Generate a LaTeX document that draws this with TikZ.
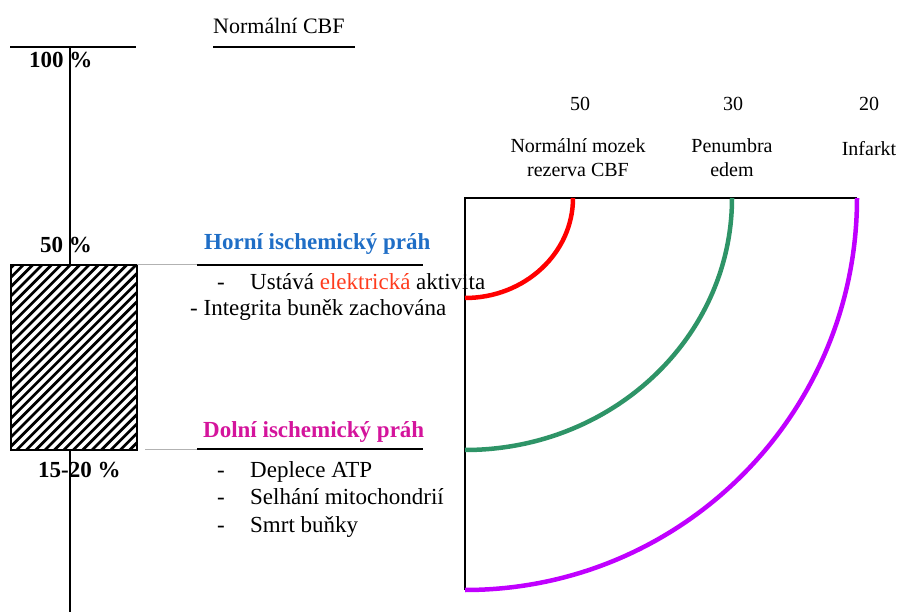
\documentclass[tikz,border=0pt]{standalone}
\usepackage{fontspec}
\setmainfont{Liberation Serif}
\usepackage{tikz}
\usetikzlibrary{positioning}

\definecolor{hornicolor}{HTML}{1F6EC6}
\definecolor{dolnicolor}{HTML}{D4149C}
\definecolor{elcolor}{HTML}{FF3C1E}
\definecolor{arcred}{HTML}{FF0000}
\definecolor{arcgreen}{HTML}{2E9467}
\definecolor{arcviolet}{HTML}{C000FF}

\tikzset{
  txt/.style={inner sep=0pt, anchor=base west, font=\fontsize{23}{27}\selectfont},
  boldtxt/.style={txt, font=\fontsize{23}{27}\selectfont\bfseries},
  toplabel/.style={inner sep=0pt, anchor=base, align=center, font=\fontsize{20}{24}\selectfont},
  zone/.style={line width=4.5pt}
}

\begin{document}
\begin{tikzpicture}[x=1pt, y=-1pt]
        \useasboundingbox (0,0) rectangle (897,612);

        % Define coordinates for the axis and the box
        \coordinate (axtop) at (70,47);
        \coordinate (axmid1) at (70,265);
        \coordinate (axmid2) at (70,450);
        \coordinate (axbot) at (70,612);
        \coordinate (hatchTL) at (11,265);
        \coordinate (hatchBR) at (137,450);
        \coordinate (boxC) at (465,198); % Top-left corner of the box
        \coordinate (boxR) at (857,198);
        \coordinate (boxB) at (465,590);

        % --- Left scale ---
        \draw[line width=1.2pt] (10,47) -- (136,47);
        \draw[line width=1.2pt] (axtop) -- (axmid1);
        \draw[line width=1.2pt] (axmid2) -- (axbot);
        \node[txt, font=\fontsize{22}{26}\selectfont] (cbf) at (213,34) {Normální CBF};
        \draw[line width=1.2pt] (213,47) -- (355,47);

        \node[boldtxt] (p100) at (29,68) {100 \%};
        \node[boldtxt] (p50) at (40,253) {50 \%};
        \node[boldtxt] (p15) at (38,477) {15-20 \%};

        % Hatched region between the thresholds
        \begin{scope}
            \clip (hatchTL) rectangle (hatchBR);
            \foreach \i in {-190,-180.6,...,140}
                \draw[line width=2.7pt] (\i,450) -- (\i+185,265);
        \end{scope}
        \draw[line width=1.2pt] (hatchTL) rectangle (hatchBR);

        % --- Threshold lines ---
        \draw[line width=1pt, gray!60] (137,265) -- (197,265);
        \draw[line width=1.2pt] (197,265) -- (423,265);
        \draw[line width=1pt, gray!60] (145,449) -- (197,449);
        \draw[line width=1.2pt] (197,449) -- (423,449);

        % Upper threshold
        \node[boldtxt, text=hornicolor] (horni) at (204,250) {Horní ischemický práh};
        \node[txt] (d1) at (217,290) {-};
        \node[txt] (t1) at (250,290) {Ustává \textcolor{elcolor}{elektrická} aktivita};
        \node[txt] (t2) at (190,316) {- Integrita buněk zachována};

        % Lower threshold
        \node[boldtxt, text=dolnicolor] (dolni) at (203,437) {Dolní ischemický práh};
        \foreach \y/\t [count=\k] in {477/Deplece ATP, 504/Selhání mitochondrií, 532/Smrt buňky} {
            \node[txt] (dash\k) at (217,\y) {-};
            \node[txt] (item\k) at (250,\y) {\t};
        }

        % --- Right box with the zones ---
        \draw[line width=1.2pt] (boxB) -- (boxC) -- (boxR);
        \draw[zone, arcred] (465,298) arc[start angle=-90, end angle=0, x radius=108, y radius=-100];
        \draw[zone, arcgreen] (465,450) arc[start angle=-90, end angle=0, x radius=267, y radius=-252];
        \draw[zone, arcviolet] (465,590) arc[start angle=-90, end angle=0, x radius=392, y radius=-392];

        % Zone labels
        \node[toplabel] (v50) at (580,111) {50};
        \node[toplabel] (v30) at (733,111) {30};
        \node[toplabel] (v20) at (869,111) {20};
        \node[toplabel] (normal) at (578,177) {Normální mozek\\rezerva CBF};
        \node[toplabel] (penumbra) at (732,177) {Penumbra\\edem};
        \node[toplabel] (infarkt) at (869,156) {Infarkt};

\end{tikzpicture}
\end{document}
